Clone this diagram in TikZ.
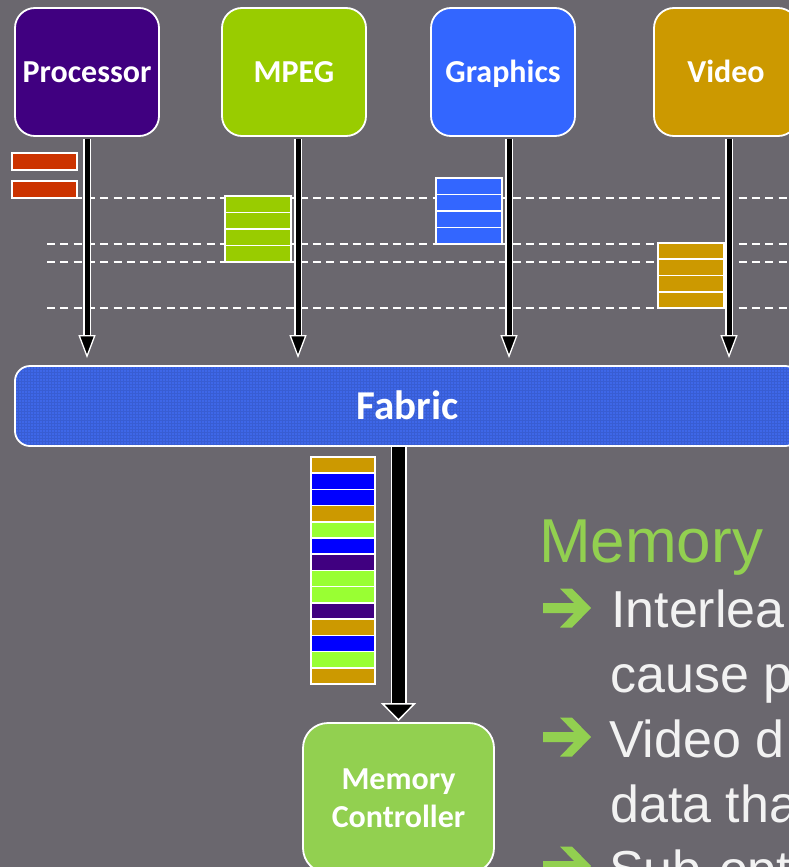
\documentclass[tikz,border=0pt]{standalone}
\usepackage{fontspec}
\setmainfont{Liberation Sans}
\newfontfamily\labelfont{Carlito}
\usetikzlibrary{arrows.meta}

\definecolor{slidebg}{RGB}{106,103,110}
\definecolor{procpurple}{RGB}{64,0,128}
\definecolor{mpeggreen}{RGB}{153,204,0}
\definecolor{gfxblue}{RGB}{51,102,255}
\definecolor{vidgold}{RGB}{204,153,0}
\definecolor{fabblue}{RGB}{62,103,232}
\definecolor{memgreen}{RGB}{146,208,80}
\definecolor{reqred}{RGB}{204,51,0}
\definecolor{pktblue}{RGB}{0,0,255}
\definecolor{pktlime}{RGB}{153,255,51}
\definecolor{textwhite}{RGB}{242,242,242}

\begin{document}
\begin{tikzpicture}[x=1pt,y=-1pt,
  unit/.style={draw=white, line width=1.8pt, rounded corners=20pt,
    minimum width=144pt, minimum height=128pt, inner sep=0pt, text=white,
    text height=21pt, text depth=0pt,
    font=\labelfont\bfseries\fontsize{32}{38}\selectfont},
  fabricbar/.style={draw=white, line width=1.8pt, rounded corners=15pt,
    minimum width=785pt, minimum height=80pt, inner sep=0pt},
  ctrlbox/.style={draw=white, line width=1.8pt, rounded corners=25pt,
    minimum width=191pt, minimum height=150pt, inner sep=0pt, text=white,
    align=center, font=\labelfont\bfseries\fontsize{32}{38}\selectfont},
  lane/.style={white, line width=1.6pt, dash pattern=on 8pt off 5.3pt},
  cell/.style={draw=white, line width=1.6pt},
  feedcase/.style={white, line width=8pt, shorten >=18pt},
  feed/.style={black, line width=5pt,
    -{Triangle[width=17pt,length=23pt,color=white,fill=black,line width=1.3pt]}},
  maincase/.style={white, line width=16pt, shorten >=14pt},
  mainfeed/.style={black, line width=13pt,
    -{Triangle[width=35pt,length=18pt,color=white,fill=black,line width=1.5pt]}},
  bodytext/.style={anchor=base west, inner sep=0pt, text=textwhite,
    font=\fontsize{52}{60}\selectfont},
  pics/bulletarrow/.style={code={
    \fill[memgreen] (0,-5) -- (31,-5) -- (17,-19.5) -- (29,-19.5) -- (48,0)
      -- (29,19.5) -- (17,19.5) -- (31,5) -- (0,5) -- cycle;}}
]
\useasboundingbox (0,0) rectangle (789,867);
\clip (0,0) rectangle (789,867);
\fill[slidebg] (0,0) rectangle (789,867);

% time lanes
\foreach \yy in {198,244,262,308}
  \draw[lane] (47,\yy) -- (789,\yy);

% queued requests of each master
\draw[cell, fill=reqred] (12,153) rectangle (77,170);
\draw[cell, fill=reqred] (12,181) rectangle (77,198);
\foreach \i in {0,...,3} {
  \draw[cell, fill=mpeggreen] (225,196+16.5*\i) rectangle ++(66,16.5);
  \draw[cell, fill=gfxblue] (436,178+16.5*\i) rectangle ++(66,16.5);
  \draw[cell, fill=vidgold] (658,243+16.25*\i) rectangle ++(66,16.25);
}

% masters
\node[unit, fill=procpurple] (proc) at (87,72) {Processor};
\node[unit, fill=mpeggreen] (mpeg) at (294,72) {MPEG};
\node[unit, fill=gfxblue] (gfx) at (503,72) {Graphics};
\node[unit, fill=vidgold] (vid) at (726,72) {Video};

% interconnect
\node[fabricbar, fill=fabblue] (fab) at (407.5,406) {};
\begin{scope}
  \clip[rounded corners=15pt] (16,367) rectangle (799,445);
  \draw[fabblue!75!black, opacity=0.35, line width=0.5pt, step=3pt]
    (0,360) grid (800,450);
\end{scope}
\node[text=white, inner sep=0pt, text height=26pt, text depth=0pt,
  font=\labelfont\bfseries\fontsize{41}{48}\selectfont]
  (fabtext) at (fab.center) {Fabric};

% memory controller
\node[ctrlbox, fill=memgreen] (mc) at (398.5,798) {Memory\\Controller};

% request arrows into the fabric
\coordinate (ps) at ([yshift=-2pt]proc.south);
\coordinate (pe) at ([yshift=7pt]ps |- fab.north);
\coordinate (ms) at ([xshift=4pt,yshift=-2pt]mpeg.south);
\coordinate (me) at ([yshift=7pt]ms |- fab.north);
\coordinate (gs) at ([xshift=6pt,yshift=-2pt]gfx.south);
\coordinate (ge) at ([yshift=7pt]gs |- fab.north);
\coordinate (vs) at ([xshift=3pt,yshift=-2pt]vid.south);
\coordinate (ve) at ([yshift=7pt]vs |- fab.north);
\foreach \a/\b in {ps/pe, ms/me, gs/ge, vs/ve} {
  \draw[feedcase] (\a) -- (\b);
  \draw[feed] (\a) -- (\b);
}

% interleaved stream to the memory controller
\coordinate (fs) at ([xshift=-9pt]fab.south);
\coordinate (fe) at ([yshift=1pt]fs |- mc.north);
\draw[maincase] (fs) -- (fe);
\draw[mainfeed] (fs) -- (fe);

\foreach \c [count=\i from 0] in {vidgold,pktblue,pktblue,vidgold,pktlime,pktblue,procpurple,pktlime,pktlime,procpurple,vidgold,pktblue,pktlime,vidgold}
  \draw[cell, fill=\c] (311,457+16.21*\i) rectangle ++(64,16.21);

% notes
\node[anchor=base west, inner sep=0pt, text=memgreen,
  font=\fontsize{62}{70}\selectfont] (head) at (539,562) {Memory};
\pic at (543,608) {bulletarrow};
\node[bodytext] (l1) at (611,627) {Interlea};
\node[bodytext] (l2) at (610,692) {cause p};
\pic at (543,737) {bulletarrow};
\node[bodytext] (l3) at (609,757) {Video d};
\node[bodytext] (l4) at (610,822) {data tha};
\pic at (543,866) {bulletarrow};
\node[bodytext] (l5) at (609,887) {Sub-opt};
\end{tikzpicture}
\end{document}
